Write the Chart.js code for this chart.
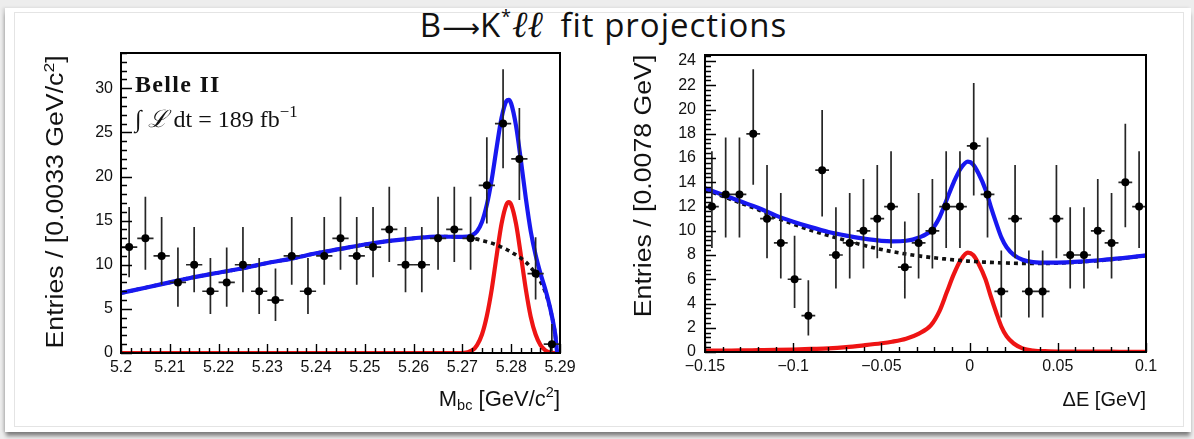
<!DOCTYPE html>
<html>
<head>
<meta charset="utf-8">
<script src="https://cdn.jsdelivr.net/npm/chart.js@4.4.1/dist/chart.umd.min.js"></script>
<style>
  html, body { margin: 0; padding: 0; }
  body { width: 1194px; height: 439px; position: relative; overflow: hidden; background: #ededed;
         font-family: "Liberation Sans", Arial, sans-serif; color: #111; }
  #sheet { position: absolute; left: 5px; top: 8px; width: 1186px; height: 424px; background: #fff;
           box-shadow: 0 5px 4px -1px rgba(0,0,0,0.45), -2px 0 3px rgba(0,0,0,0.12); }
  #inner { position: absolute; left: 9px; top: 4px; width: 1168px; height: 413px; border: 1px solid #e4e4e4; }
  canvas { position: absolute; top: 0; }
  #mbc { left: 0; }
  #de { left: 597px; }
  #title { position: absolute; left: 0; top: 9px; width: 1207px; text-align: center;
           font: 400 33px/32px "Open Sans", sans-serif; letter-spacing: 1px; color: #111; white-space: nowrap; }
  #title .arr { font-family: "DejaVu Sans", sans-serif; font-size: 0.8em; letter-spacing: 0; }
  #title sup { font-size: 0.55em; vertical-align: 0.75em; line-height: 0; }
  #title i { font-family: "Liberation Serif", serif; font-size: 1.12em; letter-spacing: 0; }
  .ytitle { position: absolute; width: 320px; text-align: right; font-size: 23px; line-height: 24px;
            transform-origin: 0 0; transform: rotate(-90deg); white-space: nowrap; }
  .ytitle span { display: inline-block; transform-origin: 100% 50%; transform: scaleX(1.16); }
  .xtitle { position: absolute; width: 300px; text-align: right; line-height: 24px; white-space: nowrap; }
  sup, sub { font-size: 0.66em; line-height: 0; }
  sup { vertical-align: 0.6em; }
  sub { vertical-align: -0.3em; }
  .belle { position: absolute; left: 135px; top: 72px; font: bold 24px/24px "Liberation Serif", serif; letter-spacing: 1.3px; }
  .lumi { position: absolute; left: 135px; top: 106px; font: 24px/26px "Liberation Serif", serif; white-space: nowrap; }
  .lumi sup { font-size: 0.7em; }
</style>
</head>
<body>
<div id="sheet"><div id="inner"></div></div>
<div id="title">B<span class="arr">⟶</span>K<sup>*</sup><i>ℓℓ</i>&ensp;fit projections</div>
<canvas id="mbc" width="597" height="439"></canvas>
<canvas id="de" width="597" height="439"></canvas>
<div class="belle">Belle II</div>
<div class="lumi">∫ <i>ℒ</i> dt = 189 fb<sup>−1</sup></div>
<div class="ytitle" style="left:43px; top:375px;"><span>Entries / [0.0033 GeV/c<sup>2</sup>]</span></div>
<div class="ytitle" style="left:631px; top:375px;"><span>Entries / [0.0078 GeV]</span></div>
<div class="xtitle" style="left:260px; top:387px; font-size:22px;">M<sub>bc</sub> [GeV/c<sup>2</sup>]</div>
<div class="xtitle" style="left:846px; top:387px; font-size:20px;">ΔE [GeV]</div>
<script>
// ---- M_bc projection ----
const mbcCenters = [5.20167, 5.20500, 5.20833, 5.21167, 5.21500, 5.21833, 5.22167, 5.22500, 5.22833,
  5.23167, 5.23500, 5.23833, 5.24167, 5.24500, 5.24833, 5.25167, 5.25500, 5.25833,
  5.26167, 5.26500, 5.26833, 5.27167, 5.27500, 5.27833, 5.28167, 5.28500, 5.28833];
const mbcCounts = [12, 13, 11, 8, 10, 7, 8, 10, 7, 6, 11, 7, 11, 13, 11, 12, 14, 10, 10, 13, 14, 13, 19, 26, 22, 9, 1];
const mbcLow = [8.58, 9.44, 7.73, 5.23, 6.89, 4.42, 5.23, 6.89, 4.42, 3.62, 7.73, 4.42, 7.73, 9.44,
  7.73, 8.58, 10.30, 6.89, 6.89, 9.44, 10.30, 9.44, 14.68, 20.95, 17.35, 6.06, 0.17];
const mbcHigh = [16.56, 17.70, 15.42, 11.95, 14.27, 10.77, 11.95, 14.27, 10.77, 9.58, 15.42, 10.77, 15.42, 17.70,
  15.42, 16.56, 18.83, 14.27, 14.27, 17.70, 18.83, 17.70, 24.44, 32.16, 27.76, 13.11, 3.30];

const mbcGrid = [5.200, 5.205, 5.210, 5.215, 5.220, 5.225, 5.230, 5.235, 5.240, 5.245, 5.250, 5.255,
  5.260, 5.265, 5.270, 5.272, 5.273, 5.274, 5.275, 5.276, 5.277, 5.278, 5.279, 5.2795, 5.280,
  5.281, 5.282, 5.283, 5.284, 5.285, 5.286, 5.287, 5.288, 5.289, 5.2895, 5.290];
const mbcBkg = [6.8, 7.4, 8.0, 8.6, 9.1, 9.6, 10.2, 10.7, 11.3, 11.8, 12.3, 12.7,
  13.0, 13.2, 13.15, 13.05, 12.9, 12.75, 12.6, 12.45, 12.25, 12.0, 11.75, 11.6, 11.45,
  11.1, 10.75, 10.3, 9.7, 9.0, 8.1, 6.9, 5.0, 2.2, 0, 0];
const mbcSig = [0, 0, 0, 0, 0, 0, 0, 0, 0, 0, 0, 0,
  0, 0, 0, 0.3, 0.9, 2.1, 4.2, 7.2, 11.0, 14.6, 16.8, 17.1, 16.8,
  14.6, 11.0, 7.2, 4.1, 2.1, 0.9, 0.3, 0.05, 0, 0, 0];
const mbcTotal = [6.8, 7.4, 8.0, 8.6, 9.1, 9.6, 10.2, 10.7, 11.3, 11.8, 12.3, 12.7,
  13.0, 13.2, 13.15, 13.35, 13.8, 14.85, 16.8, 19.65, 23.25, 26.6, 28.55, 28.7, 28.25,
  25.7, 21.75, 17.5, 13.8, 11.1, 9.0, 7.2, 5.05, 2.2, 0, 0];
const mbcTickValues = [5.2, 5.21, 5.22, 5.23, 5.24, 5.25, 5.26, 5.27, 5.28, 5.29];
const mbcCountTicks = [0, 5, 10, 15, 20, 25, 30];

// ---- Delta E projection ----
const deCenters = [-0.14609, -0.13828, -0.13047, -0.12266, -0.11484, -0.10703, -0.09922, -0.09141,
  -0.08359, -0.07578, -0.06797, -0.06016, -0.05234, -0.04453, -0.03672, -0.02891,
  -0.02109, -0.01328, -0.00547, 0.00234, 0.01016, 0.01797, 0.02578, 0.03359,
  0.04141, 0.04922, 0.05703, 0.06484, 0.07266, 0.08047, 0.08828, 0.09609];
const deCounts = [12, 13, 13, 18, 11, 9, 6, 3, 15, 8, 9, 10, 11, 12, 7, 9,
  10, 12, 12, 17, 13, 5, 11, 5, 5, 11, 8, 8, 10, 9, 14, 12];
const deLow = [8.58, 9.44, 9.44, 13.80, 7.73, 6.06, 3.62, 1.37, 11.17, 5.23, 6.06, 6.89, 7.73, 8.58, 4.42, 6.06,
  6.89, 8.58, 8.58, 12.92, 9.44, 2.84, 7.73, 2.84, 2.84, 7.73, 5.23, 5.23, 6.89, 6.06, 10.30, 8.58];
const deHigh = [16.56, 17.70, 17.70, 23.32, 15.42, 13.11, 9.58, 5.92, 19.96, 11.95, 13.11, 14.27, 15.42, 16.56, 10.77, 13.11,
  14.27, 16.56, 16.56, 22.20, 17.70, 8.38, 15.42, 8.38, 8.38, 15.42, 11.95, 11.95, 14.27, 13.11, 18.83, 16.56];

const deGrid = [-0.150, -0.140, -0.130, -0.120, -0.110, -0.100, -0.090, -0.080, -0.070, -0.060,
  -0.050, -0.044, -0.036, -0.029, -0.022, -0.017, -0.013, -0.009, -0.005, -0.001,
  0.002, 0.005, 0.009, 0.012, 0.015, 0.018, 0.021, 0.025, 0.030, 0.036,
  0.045, 0.055, 0.065, 0.075, 0.085, 0.100];
const deBkg = [13.4, 12.85, 12.3, 11.75, 11.1, 10.55, 10.05, 9.6, 9.2, 8.8,
  8.45, 8.28, 8.08, 7.93, 7.8, 7.72, 7.66, 7.6, 7.55, 7.5,
  7.47, 7.44, 7.41, 7.39, 7.37, 7.35, 7.34, 7.32, 7.31, 7.3,
  7.31, 7.36, 7.45, 7.56, 7.7, 7.95];
const deSig = [0.1, 0.12, 0.13, 0.15, 0.17, 0.2, 0.25, 0.3, 0.4, 0.55,
  0.72, 0.85, 1.1, 1.5, 2.2, 3.4, 4.9, 6.4, 7.6, 8.2,
  8.0, 7.3, 6.0, 4.6, 3.3, 2.1, 1.3, 0.7, 0.3, 0.12,
  0.06, 0.04, 0.03, 0.03, 0.02, 0.02];
const deTotal = [13.5, 12.97, 12.43, 11.9, 11.27, 10.75, 10.3, 9.9, 9.6, 9.35,
  9.17, 9.13, 9.18, 9.43, 10.0, 11.12, 12.56, 14.0, 15.15, 15.7,
  15.47, 14.74, 13.41, 11.99, 10.67, 9.45, 8.64, 8.02, 7.61, 7.42,
  7.37, 7.4, 7.48, 7.59, 7.72, 7.97];
const deTickValues = [-0.15, -0.1, -0.05, 0, 0.05, 0.1];
const deCountTicks = [0, 2, 4, 6, 8, 10, 12, 14, 16, 18, 20, 22, 24];

const BLUE = '#1818f0';
const RED = '#ee1414';

// Error bars under the markers, then the frame with inward ROOT-style ticks.
const rootFrame = {
  id: 'rootFrame',
  beforeDatasetDraw(chart, args) {
    const ds = chart.data.datasets[args.index];
    if (!ds.low) return;
    const ctx = chart.ctx, xs = chart.scales.x, ys = chart.scales.y;
    ctx.save();
    ctx.strokeStyle = '#262626';
    ctx.lineWidth = 1.7;
    ctx.beginPath();
    ds.data.forEach((p, i) => {
      const px = xs.getPixelForValue(p.x), py = ys.getPixelForValue(p.y);
      ctx.moveTo(px, ys.getPixelForValue(ds.low[i]));
      ctx.lineTo(px, ys.getPixelForValue(ds.high[i]));
      ctx.moveTo(xs.getPixelForValue(p.x - ds.halfBin), py);
      ctx.lineTo(xs.getPixelForValue(p.x + ds.halfBin), py);
    });
    ctx.stroke();
    ctx.restore();
  },
  afterDraw(chart, args, opts) {
    const ctx = chart.ctx, a = chart.chartArea, xs = chart.scales.x, ys = chart.scales.y;
    const isMajor = (v, base, step) => {
      const r = (v - base) / step;
      return Math.abs(r - Math.round(r)) < 1e-6;
    };
    ctx.save();
    ctx.strokeStyle = '#000';
    ctx.lineWidth = 1.4;
    ctx.beginPath();
    let n = Math.round((ys.max - ys.min) / opts.yMinor);
    for (let i = 0; i <= n; i++) {
      const v = ys.min + i * opts.yMinor;
      const py = Math.round(ys.getPixelForValue(v)) + 0.5;
      ctx.moveTo(a.left, py);
      ctx.lineTo(a.left + (isMajor(v, ys.min, opts.yMajor) ? 11 : 6), py);
    }
    n = Math.round((xs.max - xs.min) / opts.xMinor);
    for (let i = 0; i <= n; i++) {
      const v = xs.min + i * opts.xMinor;
      const px = Math.round(xs.getPixelForValue(v)) + 0.5;
      ctx.moveTo(px, a.bottom);
      ctx.lineTo(px, a.bottom - (isMajor(v, xs.min, opts.xMajor) ? 9 : 5));
    }
    ctx.stroke();
    ctx.lineWidth = 2;
    ctx.strokeRect(a.left, a.top, a.right - a.left, a.bottom - a.top);
    ctx.restore();
  }
};

const tickFont = { family: 'Liberation Sans', size: 16 };
const fmt = v => (v < 0 ? '\u2212' : '') + String(+Math.abs(v).toFixed(3));
const pairs = (xs, ys) => xs.map((x, i) => ({ x, y: ys[i] }));

function makePanel(id, p) {
  return new Chart(document.getElementById(id), {
    type: 'line',
    data: {
      datasets: [{
        data: pairs(p.centers, p.counts),
        low: p.low, high: p.high, halfBin: p.halfBin,
        showLine: false, pointRadius: 4, pointBackgroundColor: '#000', pointBorderWidth: 0
      }, {
        data: pairs(p.grid, p.total),
        borderColor: BLUE, borderWidth: 4.2, pointRadius: 0, cubicInterpolationMode: 'monotone'
      }, {
        data: pairs(p.grid, p.bkg),
        borderColor: '#111', borderWidth: 3.6, borderDash: [4, 4], pointRadius: 0, cubicInterpolationMode: 'monotone'
      }, {
        data: pairs(p.grid, p.sig),
        borderColor: RED, borderWidth: 4.2, pointRadius: 0, cubicInterpolationMode: 'monotone'
      }]
    },
    options: {
      responsive: false,
      animation: false,
      layout: { padding: p.padding },
      plugins: { legend: { display: false }, tooltip: { enabled: false }, rootFrame: p.frame },
      scales: {
        x: {
          type: 'linear', min: p.xMin, max: p.xMax,
          grid: { display: false, drawTicks: false }, border: { display: false },
          afterBuildTicks: s => { s.ticks = p.xTicks.map(value => ({ value })); },
          afterFit: s => { s.height = p.xAxisHeight; },
          ticks: { font: tickFont, color: '#111', padding: 5, maxRotation: 0, autoSkip: false, callback: fmt }
        },
        y: {
          min: 0, max: p.yMax,
          grid: { display: false, drawTicks: false }, border: { display: false },
          afterBuildTicks: s => { s.ticks = p.yTicks.map(value => ({ value })); },
          afterFit: s => { s.width = p.yAxisWidth; },
          ticks: { font: tickFont, color: '#111', padding: p.yPad, callback: fmt }
        }
      }
    },
    plugins: [rootFrame]
  });
}

makePanel('mbc', {
  centers: mbcCenters, counts: mbcCounts, low: mbcLow, high: mbcHigh, halfBin: 0.09 / 27 / 2,
  grid: mbcGrid, bkg: mbcBkg, sig: mbcSig, total: mbcTotal,
  xMin: 5.2, xMax: 5.29, yMax: 34, xTicks: mbcTickValues, yTicks: mbcCountTicks,
  padding: { top: 53, right: 37, bottom: 0, left: 0 }, yAxisWidth: 121, xAxisHeight: 86, yPad: 8,
  frame: { xMajor: 0.01, xMinor: 0.002, yMajor: 5, yMinor: 1 }
});

makePanel('de', {
  centers: deCenters, counts: deCounts, low: deLow, high: deHigh, halfBin: 0.25 / 32 / 2,
  grid: deGrid, bkg: deBkg, sig: deSig, total: deTotal,
  xMin: -0.15, xMax: 0.1, yMax: 24.5, xTicks: deTickValues, yTicks: deCountTicks,
  padding: { top: 55, right: 48, bottom: 0, left: 0 }, yAxisWidth: 108, xAxisHeight: 87, yPad: 9,
  frame: { xMajor: 0.05, xMinor: 0.01, yMajor: 2, yMinor: 0.4 }
});
</script>
</body>
</html>
